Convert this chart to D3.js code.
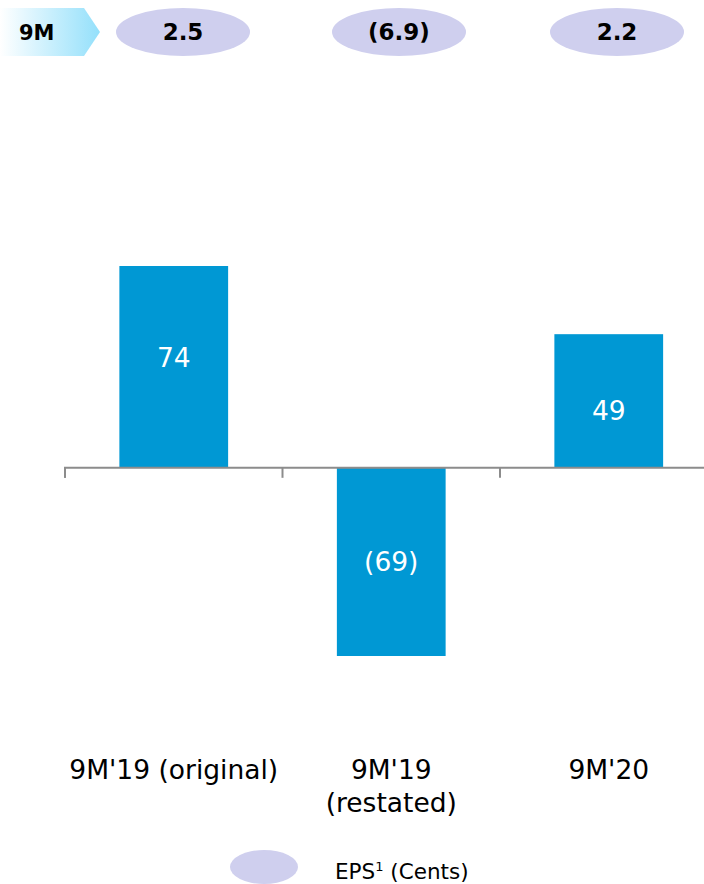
<!DOCTYPE html>
<html><head><meta charset="utf-8">
<script src="https://cdn.jsdelivr.net/npm/d3@7"></script>
<style>body{margin:0;background:#fff}svg{display:block}</style>
</head><body>
<script>
const categories = ["9M'19 (original)", "9M'19\n(restated)", "9M'20"];
const values = [74, -69, 49];
const valueLabels = ["74", "(69)", "49"];
const epsLabels = ["2.5", "(6.9)", "2.2"];
const periodLabel = "9M";
const legendLabel = "EPS";

const W = 704, H = 884;
const svg = d3.select("body").append("svg").attr("width", W).attr("height", H);
const font = "Verdana, 'DejaVu Sans', sans-serif";

const x = d3.scaleBand().domain(categories).range([65, 717.5]).paddingInner(0).paddingOuter(0);
const y = d3.scaleLinear().domain([-69, 74]).range([656, 266]);

// header chevron
const defs = svg.append("defs");
const g = defs.append("linearGradient").attr("id", "chev").attr("x1", 0).attr("x2", 1);
g.append("stop").attr("offset", 0).attr("stop-color", "#ffffff");
g.append("stop").attr("offset", 1).attr("stop-color", "#94e0fb");
svg.append("path").attr("d", "M0,8 L84,8 L100,32 L84,56 L0,56 Z").attr("fill", "url(#chev)");
svg.append("text").attr("x", 19).attr("y", 40).attr("font-family", font).attr("font-weight", "bold")
  .attr("font-size", 21).attr("fill", "#000").text(periodLabel);

// EPS ellipses
const ex = [183, 399, 617];
svg.selectAll(".eps").data(epsLabels).join("g").each(function(d, i) {
  const s = d3.select(this);
  s.append("ellipse").attr("cx", ex[i]).attr("cy", 32).attr("rx", 67).attr("ry", 24).attr("fill", "#cfcfee");
  s.append("text").attr("x", ex[i]).attr("y", 40).attr("text-anchor", "middle").attr("font-family", font)
    .attr("font-weight", "bold").attr("font-size", 23).attr("fill", "#000").text(d);
});

// bars
const bw = x.bandwidth() * 0.5;
svg.selectAll(".bar").data(values).join("rect")
  .attr("x", (d, i) => x(categories[i]) + (x.bandwidth() - bw) / 2)
  .attr("width", bw)
  .attr("y", d => y(Math.max(0, d)))
  .attr("height", d => Math.abs(y(d) - y(0)))
  .attr("fill", "#0098d4");

// value labels
const lblOffset = [-8.5, 0, 9.5];
svg.selectAll(".vl").data(values).join("text")
  .attr("x", (d, i) => x(categories[i]) + x.bandwidth() / 2)
  .attr("y", (d, i) => (y(d) + y(0)) / 2 + 9 + lblOffset[i])
  .attr("text-anchor", "middle").attr("font-family", font).attr("font-size", 26.5).attr("fill", "#fff")
  .text((d, i) => valueLabels[i]);

// axis
const axis = d3.axisBottom(x).tickSize(10).tickFormat("");
const ax = svg.append("g").attr("transform", `translate(0,${y(0)})`).call(axis);
ax.select(".domain").attr("stroke", "#8c8c8c").attr("stroke-width", 2).attr("d", `M65,10V0H717.5V10`);
ax.selectAll(".tick").remove();
categories.forEach(c => {
  ax.append("line").attr("x1", x(c)).attr("x2", x(c)).attr("y1", 0).attr("y2", 10)
    .attr("stroke", "#8c8c8c").attr("stroke-width", 2);
});

// category labels
categories.forEach(c => {
  const lines = c.split("\n");
  const t = svg.append("text").attr("x", x(c) + x.bandwidth() / 2).attr("y", 779)
    .attr("text-anchor", "middle").attr("font-family", font).attr("font-size", 26.5).attr("fill", "#000");
  lines.forEach((l, j) => t.append("tspan").attr("x", x(c) + x.bandwidth() / 2).attr("dy", j ? 33 : 0).text(l));
});

// legend
svg.append("ellipse").attr("cx", 264).attr("cy", 867).attr("rx", 34).attr("ry", 17).attr("fill", "#cfcfee");
const lt = svg.append("text").attr("x", 335).attr("y", 879).attr("font-family", font).attr("font-size", 21.5).attr("fill", "#000");
lt.append("tspan").text(legendLabel);
lt.append("tspan").attr("dy", -8).attr("font-size", 13).text("1");
lt.append("tspan").attr("dy", 8).text(" (Cents)");
</script>
</body></html>
